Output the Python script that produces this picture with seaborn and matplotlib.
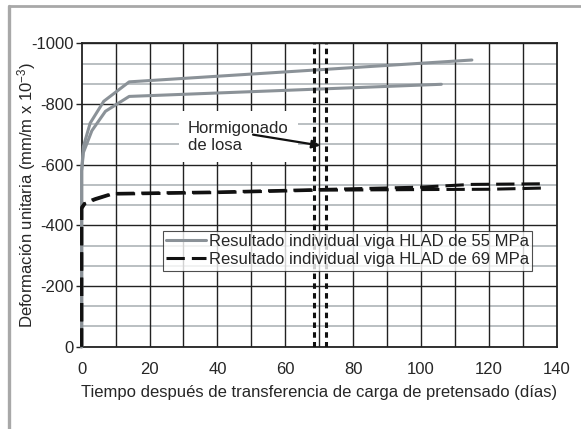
import numpy as np
import pandas as pd
import matplotlib
matplotlib.use("Agg")
import matplotlib.pyplot as plt
from matplotlib.lines import Line2D
import seaborn as sns

# ---- data ----
g55a_x = [0, 0, 0.5, 2.5, 6.5, 14, 115]
g55a_y = [0, -580, -660, -737, -809, -873, -945]
g55b_x = [0, 0, 0.5, 3, 7, 14, 106]
g55b_y = [0, -580, -640, -712, -776, -825, -865]
g69a_x = [0, 0, 1, 4, 9, 40, 70, 100, 115, 136]
g69a_y = [0, -460, -475, -488, -505, -510, -518, -526, -535, -537]
g69b_x = [0, 0, 1, 4, 9, 40, 70, 100, 120, 136]
g69b_y = [0, -455, -472, -485, -503, -508, -516, -518, -519, -523]
slab_days = [68.6, 72]
x_ticks = [0, 20, 40, 60, 80, 100, 120, 140]
y_ticks = [0, -200, -400, -600, -800, -1000]
labels = ["Resultado individual viga HLAD de 55 MPa",
          "Resultado individual viga HLAD de 69 MPa"]

sns.set_style("white")
plt.rcParams['font.family'] = ['Liberation Sans', 'DejaVu Sans']
plt.rcParams['mathtext.fontset'] = 'custom'
plt.rcParams['mathtext.rm'] = 'Liberation Sans'
plt.rcParams['mathtext.it'] = 'Liberation Sans'
plt.rcParams['mathtext.default'] = 'regular'

fig = plt.figure(figsize=(5.81, 4.29), dpi=100)
ax = fig.add_axes([0.1406, 0.1918, 0.9582 - 0.1406, 0.899 - 0.1918])

GRAY = "#8b9298"
lw = 2.2

# grid
for v in np.arange(-1000, 1, 200 / 3):
    if abs(round(v) % 200) > 1:
        ax.axhline(v, color="#a7adb2", lw=1.1, zorder=1)
for v in range(-1000, 1, 200):
    ax.axhline(v, color="#222222", lw=1.0, zorder=1.2)
for v in range(10, 140, 10):
    ax.axvline(v, color="#222222", lw=1.0, zorder=1.2)

df_a = pd.DataFrame({"x": g55a_x, "y": g55a_y})
df_b = pd.DataFrame({"x": g55b_x, "y": g55b_y})
df_c = pd.DataFrame({"x": g69a_x, "y": g69a_y})
df_d = pd.DataFrame({"x": g69b_x, "y": g69b_y})

sns.lineplot(data=df_a, x="x", y="y", sort=False, estimator=None, ax=ax,
             color=GRAY, lw=lw, zorder=3, clip_on=False)
sns.lineplot(data=df_b, x="x", y="y", sort=False, estimator=None, ax=ax,
             color=GRAY, lw=lw, zorder=3, clip_on=False)
sns.lineplot(data=df_c, x="x", y="y", sort=False, estimator=None, ax=ax,
             color="#111111", lw=lw, zorder=4, dashes=False, clip_on=False)
sns.lineplot(data=df_d, x="x", y="y", sort=False, estimator=None, ax=ax,
             color="#111111", lw=lw, zorder=4, dashes=False, clip_on=False)
for ln in ax.lines[-2:]:
    ln.set_dashes((6, 2.3))

for d in slab_days:
    ax.axvline(d, color="#111111", lw=2.2, dashes=(1.8, 1.4), zorder=5)

ax.set_xlim(0, 140)
ax.set_ylim(0, -1000)
ax.set_xticks(x_ticks)
ax.set_yticks(y_ticks)
ax.set_xticklabels([str(t) for t in x_ticks], fontsize=12)
ax.set_yticklabels([str(t) for t in y_ticks], fontsize=12)
ax.tick_params(axis="x", length=0, pad=11)
ax.tick_params(axis="y", length=4, width=1, color="#222222", pad=2, direction="out", left=True)
for s in ax.spines.values():
    s.set_color("#222222")
    s.set_linewidth(1.3)
    s.set_zorder(2.5)

ax.set_xlabel("Tiempo después de transferencia de carga de pretensado (días)", fontsize=12)
ax.xaxis.set_label_coords(0.5, -(392.7 - 346.7) / 303.4, transform=ax.transAxes)
ax.xaxis.label.set_va("center")
ax.set_ylabel("Deformación unitaria (mm/m x 10$^{-3}$)", fontsize=12)
ax.yaxis.set_label_coords((27 - 81.7) / 475.0, 0.5, transform=ax.transAxes)
ax.yaxis.label.set_va("center")

ax.text(31.3, -692, "Hormigonado\nde losa", fontsize=12, ha="left", va="center",
        linespacing=1.2, zorder=7,
        bbox=dict(boxstyle="square,pad=0.55", fc="white", ec="none"))
ax.annotate("", xy=(70.3, -663), xytext=(50.5, -699),
            arrowprops=dict(arrowstyle="-|>", color="#111111", lw=1.6,
                            shrinkA=0, shrinkB=0, mutation_scale=12),
            zorder=7.5)

handles = [Line2D([], [], color=GRAY, lw=lw),
           Line2D([], [], color="#111111", lw=lw, dashes=(6, 2.3))]
leg = ax.legend(handles, labels, loc="upper right", bbox_to_anchor=(0.948, 0.383),
                fontsize=12, frameon=True, fancybox=False, handlelength=2.4,
                handletextpad=0.15, borderpad=0.2, labelspacing=0.2, borderaxespad=0)
leg.get_frame().set_edgecolor("#222222")
leg.get_frame().set_linewidth(0.8)
leg.set_zorder(8)

# outer figure frame (top and left visible)
fig.add_artist(Line2D([9 / 581, 1], [1 - 6.2 / 429, 1 - 6.2 / 429], color="#a8a8a8", lw=2.0))
fig.add_artist(Line2D([9 / 581, 9 / 581], [0, 1 - 6.2 / 429], color="#a8a8a8", lw=2.4))

fig.savefig("out.png", dpi=100)
